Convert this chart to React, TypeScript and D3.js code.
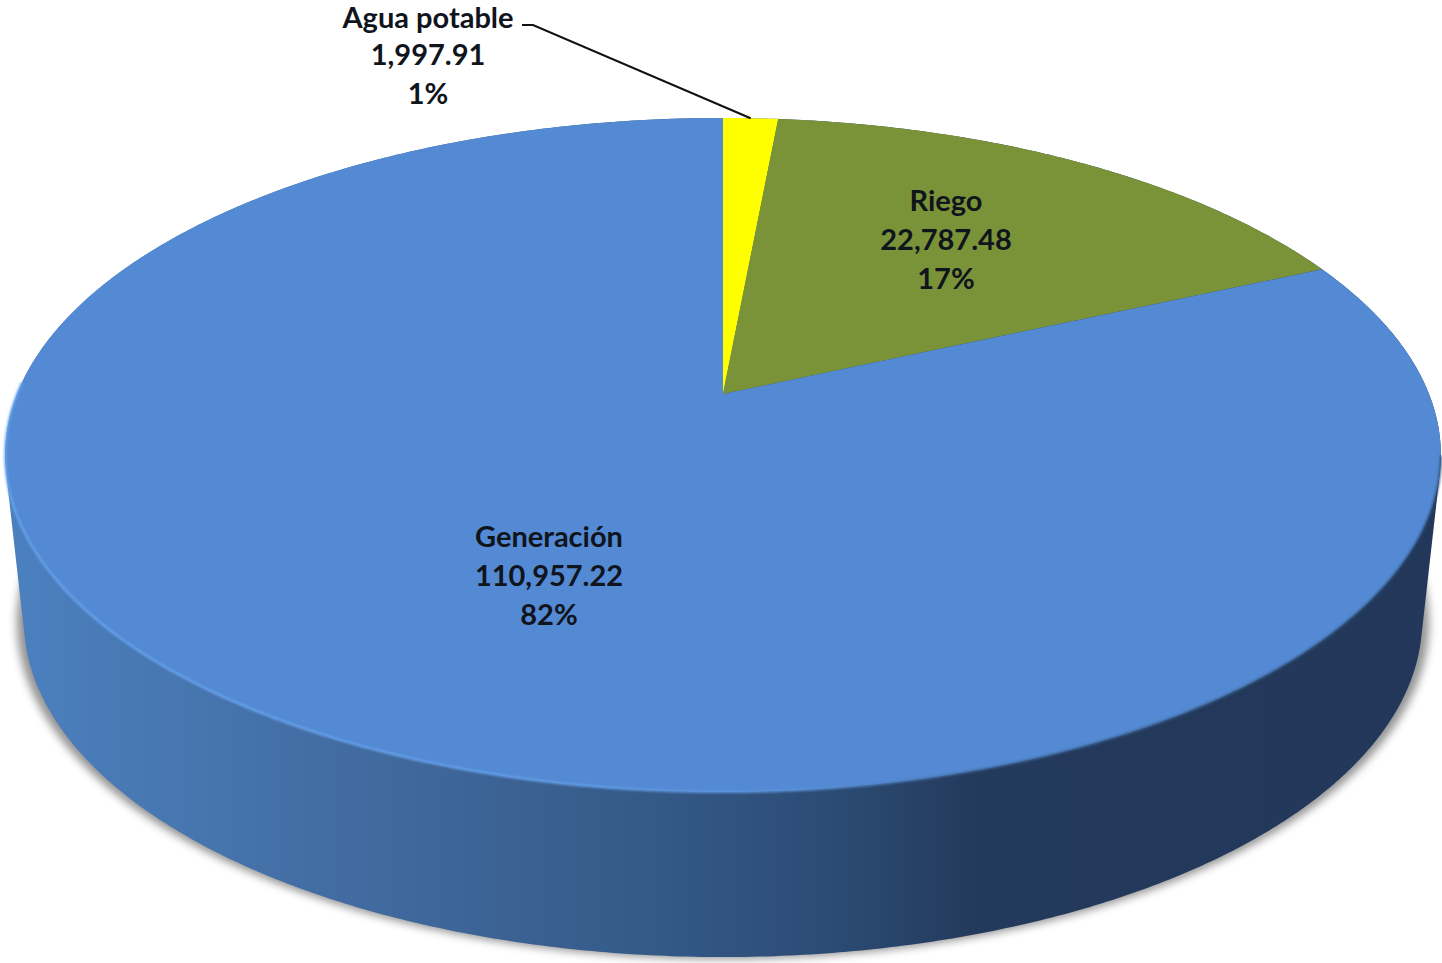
import React, { useEffect, useRef } from 'react'
import * as d3 from 'd3'

const categories = ['Agua potable', 'Riego', 'Generación']
const values = [1997.91, 22787.48, 110957.22]
const percentLabels = ['1%', '17%', '82%']
const valueLabels = ['1,997.91', '22,787.48', '110,957.22']
const sliceColors = ['#ffff00', '#7a9339', '#538ad3']

const width = 1442
const height = 963

// the pie is tilted with perspective, so the apex is not at the middle of the ellipse
const cx = 723
const apexY = 394
const scaleX = 706
const scaleY = 326
const tilt = 0.181

// label centres, first line baseline. drop keeps the top line inside the page
const labelPos = [
  { x: 428, y: 26, drop: 2 },
  { x: 946, y: 211, drop: 0 },
  { x: 549, y: 547, drop: 0 },
]

function project(angle: number, r = 1): [number, number] {
  const u = Math.sin(angle) * r
  const v = Math.cos(angle) * r
  const w = 1 + tilt * v
  return [cx + (scaleX * u) / w, apexY - (scaleY * v) / w]
}

function App() {
  const ref = useRef<SVGSVGElement | null>(null)

  useEffect(() => {
    drawChart()
  }, [])

  function drawChart() {
    const svg = d3.select(ref.current)
    svg.selectAll('*').remove()

    const defs = svg.append('defs')

    const wallGrad = defs.append('linearGradient')
      .attr('id', 'wall')
      .attr('gradientUnits', 'userSpaceOnUse')
      .attr('x1', 10).attr('x2', 1430).attr('y1', 0).attr('y2', 0)
    const wallStops: [number, string][] = [
      [0, '#4b80bf'], [0.12, '#4776b0'], [0.3, '#3f6699'],
      [0.45, '#345a88'], [0.58, '#2b4b74'], [0.68, '#243a5c'], [1, '#22375a'],
    ]
    wallStops.forEach(([o, c]) => wallGrad.append('stop').attr('offset', o).attr('stop-color', c))

    const rimGrad = defs.append('linearGradient')
      .attr('id', 'rim')
      .attr('gradientUnits', 'userSpaceOnUse')
      .attr('x1', 0).attr('x2', 1442).attr('y1', 0).attr('y2', 0)
    const rimStops: [number, string][] = [
      [0, '#6aa8f2'], [0.4, '#69a5ee'], [0.55, '#5c95dc'], [0.68, '#42699c'], [1, '#2f5078'],
    ]
    rimStops.forEach(([o, c]) => rimGrad.append('stop').attr('offset', o).attr('stop-color', c))

    defs.append('filter').attr('id', 'soft')
      .attr('x', '-5%').attr('y', '-5%').attr('width', '110%').attr('height', '110%')
      .append('feGaussianBlur').attr('stdDeviation', 4.5)
    defs.append('filter').attr('id', 'edge')
      .attr('x', '-5%').attr('y', '-5%').attr('width', '110%').attr('height', '110%')
      .append('feGaussianBlur').attr('stdDeviation', 0.8)

    const pie = d3.pie<number>().sort(null).value((d) => d)
    const arcs = pie(values)

    const line = d3.line<[number, number]>()
    const ring = d3.range(0, 721).map((i) => project((i / 720) * 2 * Math.PI))

    // lower rim is the same ellipse a bit smaller and pushed down
    const bottomRing = ring.map(([x, y]): [number, number] => [cx + (x - cx) * 0.974, y + 165])
    const hull = d3.polygonHull([...ring, ...bottomRing]) as [number, number][]

    // shadow
    const shadowRing = bottomRing.map(([x, y]): [number, number] => [cx + (x - cx) * 1.01, y + 2])
    svg.append('path')
      .attr('d', line(shadowRing) + 'Z')
      .attr('fill', '#000')
      .attr('fill-opacity', 0.42)
      .attr('filter', 'url(#soft)')

    // side wall
    svg.append('path')
      .attr('d', line(hull) + 'Z')
      .attr('fill', 'url(#wall)')

    // top face
    svg.selectAll('path.slice')
      .data(arcs)
      .enter()
      .append('path')
      .attr('class', 'slice')
      .attr('d', (d) => {
        const n = Math.max(2, Math.ceil((d.endAngle - d.startAngle) * 120))
        const pts = d3.range(n + 1).map((i) =>
          project(d.startAngle + ((d.endAngle - d.startAngle) * i) / n))
        return line([[cx, apexY], ...pts]) + 'Z'
      })
      .attr('fill', (d, i) => sliceColors[i])

    // bevel along the front half of the top face edge
    const front = ring.filter((p, i) => i > 200 && i < 545)
    svg.append('path')
      .attr('d', line(front))
      .attr('fill', 'none')
      .attr('stroke', 'url(#rim)')
      .attr('stroke-width', 2)
      .attr('filter', 'url(#edge)')

    // leader for the small slice
    const small = arcs[0]
    const tip = project((small.startAngle + small.endAngle) / 2)
    svg.append('path')
      .attr('d', line([[522, 25], [533, 25], tip]))
      .attr('fill', 'none')
      .attr('stroke', '#111')
      .attr('stroke-width', 2)

    // labels
    const label = svg.selectAll('g.label')
      .data(categories)
      .enter()
      .append('g')
      .attr('class', 'label')
      .attr('transform', (d, i) => `translate(${labelPos[i].x}, ${labelPos[i].y})`)
      .attr('text-anchor', 'middle')
      .style('font-family', "Lato, 'Open Sans', sans-serif")
      .style('font-weight', 700)
      .style('font-size', '29px')
      .style('fill', '#10141c')

    label.append('text').attr('y', (d, i) => labelPos[i].drop).text((d) => d)
    label.append('text').attr('y', 38.5).text((d, i) => valueLabels[i])
    label.append('text').attr('y', 78).text((d, i) => percentLabels[i])
  }

  return (
    <svg
      ref={ref}
      width={width}
      height={height}
      style={{ position: 'absolute', left: 0, top: 0, background: 'white' }}
    />
  )
}

export default App
